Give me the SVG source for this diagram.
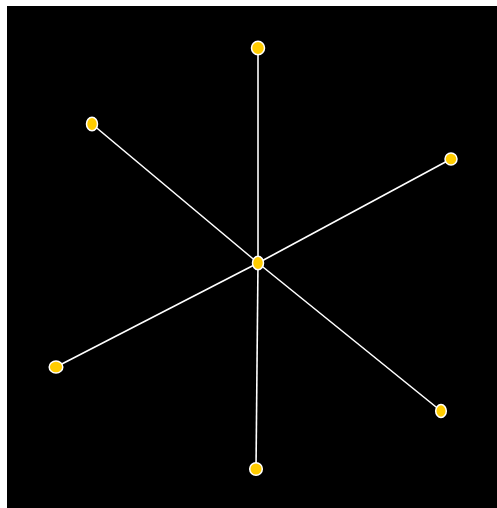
<svg xmlns="http://www.w3.org/2000/svg" width="497" height="508" viewBox="0 0 497 508">
<style>
.edge{stroke:#ffffff;stroke-width:1.6;fill:none}
.node{fill:#ffcc00;stroke:#ffffff;stroke-width:1.5}
</style>
<rect x="0" y="0" width="497" height="508" fill="#ffffff"/>
<rect x="7" y="6" width="490" height="502" fill="#000000"/>
<g id="connectors">
<line class="edge" x1="258" y1="263" x2="258" y2="48"/>
<line class="edge" x1="258" y1="263" x2="256" y2="469"/>
<line class="edge" x1="258" y1="263" x2="92" y2="124"/>
<line class="edge" x1="258" y1="263" x2="441" y2="411"/>
<line class="edge" x1="258" y1="263" x2="451" y2="159"/>
<line class="edge" x1="258" y1="263" x2="56" y2="367"/>
</g>
<g id="node-top"><ellipse class="node" cx="258" cy="48" rx="6.5" ry="6.8"/></g>
<g id="node-upper-left"><ellipse class="node" cx="92" cy="124" rx="5.5" ry="6.8"/></g>
<g id="node-right"><ellipse class="node" cx="451" cy="159" rx="6" ry="6"/></g>
<g id="node-center"><ellipse class="node" cx="258" cy="263" rx="5.5" ry="6.8"/></g>
<g id="node-left"><ellipse class="node" cx="56" cy="367" rx="6.8" ry="6"/></g>
<g id="node-lower-right"><ellipse class="node" cx="441" cy="411" rx="5.3" ry="6.5"/></g>
<g id="node-bottom"><ellipse class="node" cx="256" cy="469" rx="6.3" ry="6.3"/></g>
</svg>
